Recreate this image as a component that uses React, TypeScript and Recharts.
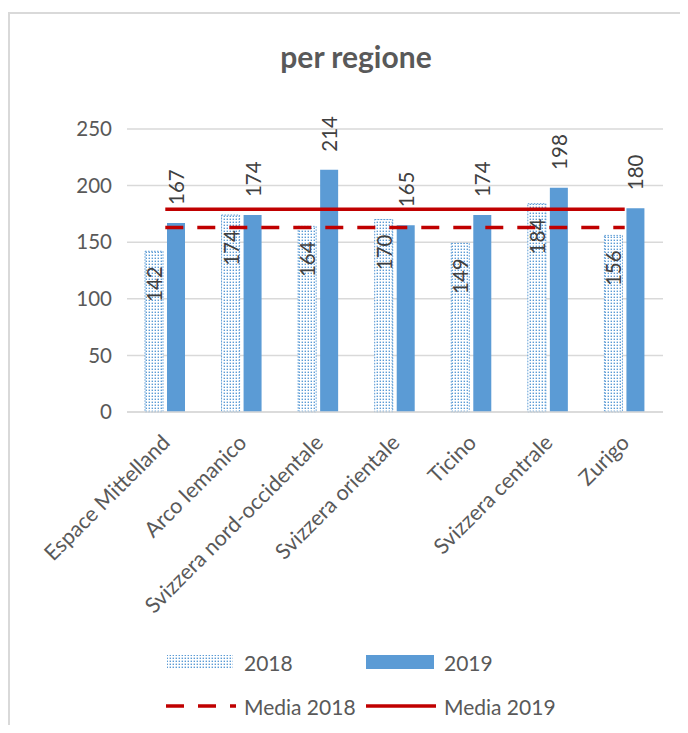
import { ComposedChart, Bar, Line, XAxis, YAxis, CartesianGrid, LabelList } from "recharts";

const REGIONS = [
  "Espace Mittelland",
  "Arco lemanico",
  "Svizzera nord-occidentale",
  "Svizzera orientale",
  "Ticino",
  "Svizzera centrale",
  "Zurigo",
];
const VALUES_2018 = [142, 174, 164, 170, 149, 184, 156];
const VALUES_2019 = [167, 174, 214, 165, 174, 198, 180];
const MEDIA_2018 = [163, 163, 163, 163, 163, 163, 163];
const MEDIA_2019 = [179, 179, 179, 179, 179, 179, 179];
const Y_TICKS = [0, 50, 100, 150, 200, 250];

const FONT = "Lato, 'Open Sans', sans-serif";
const BLUE = "#5B9BD5";
const RED = "#C00000";
const GRID = "#D9D9D9";
const TEXT = "#595959";

const data = REGIONS.map((region, i) => ({
  region,
  v2018: VALUES_2018[i],
  v2019: VALUES_2019[i],
  m2018: MEDIA_2018[i],
  m2019: MEDIA_2019[i],
}));

function DotPattern({ id }: { id: string }) {
  return (
    <pattern id={id} width={3} height={3} patternUnits="userSpaceOnUse">
      <rect width={3} height={3} fill="#fff" />
      <rect x={0.6} y={0.6} width={1.4} height={1.4} fill={BLUE} />
    </pattern>
  );
}

// label inside the top of the 2018 bars, reading upwards
function InsideLabel(props: any) {
  const { x, y, width, value } = props;
  const cx = x + width / 2;
  const ty = y + 15;
  return (
    <text
      x={cx}
      y={ty}
      transform={`rotate(-90, ${cx}, ${ty})`}
      textAnchor="end"
      dominantBaseline="central"
      fill="#404040"
      fontSize={20.5}
      fontFamily={FONT}
    >
      {value}
    </text>
  );
}

// label above the 2019 bars
function OutsideLabel(props: any) {
  const { x, y, width, value } = props;
  const cx = x + width / 2;
  const ty = y - 18;
  return (
    <text
      x={cx}
      y={ty}
      transform={`rotate(-90, ${cx}, ${ty})`}
      textAnchor="start"
      dominantBaseline="central"
      fill="#404040"
      fontSize={20.5}
      fontFamily={FONT}
    >
      {value}
    </text>
  );
}

function RegionTick({ x, y, payload }: any) {
  const tx = x + 6;
  const ty = y + 24;
  return (
    <text
      x={tx}
      y={ty}
      transform={`rotate(-45, ${tx}, ${ty})`}
      textAnchor="end"
      fill={TEXT}
      fontSize={21.5}
      fontFamily={FONT}
    >
      {payload.value}
    </text>
  );
}

const LEGEND = [
  { name: "2018", kind: "pattern", left: 156, top: 648 },
  { name: "2019", kind: "bar", left: 356, top: 648 },
  { name: "Media 2018", kind: "dash", left: 156, top: 692 },
  { name: "Media 2019", kind: "line", left: 356, top: 692 },
];

function LegendSwatch({ kind }: { kind: string }) {
  return (
    <svg width={70} height={16} style={{ display: "block" }}>
      <defs>
        <DotPattern id="legendDots" />
      </defs>
      {kind === "pattern" && <rect x={1} y={1} width={66} height={14} fill="url(#legendDots)" />}
      {kind === "bar" && <rect x={0} y={1} width={68} height={14} fill={BLUE} />}
      {kind === "dash" && (
        <line x1={0} y1={8} x2={70} y2={8} stroke={RED} strokeWidth={3.5} strokeDasharray="18 14" />
      )}
      {kind === "line" && <line x1={0} y1={8} x2={70} y2={8} stroke={RED} strokeWidth={3.5} />}
    </svg>
  );
}

export default function App() {
  return (
    <div
      style={{
        position: "relative",
        top: 4,
        width: 680,
        height: 717,
        boxSizing: "border-box",
        borderTop: `2px solid ${GRID}`,
        borderLeft: `2px solid ${GRID}`,
        overflow: "hidden",
        fontFamily: FONT,
      }}
    >
      <div
        style={{
          position: "absolute",
          left: 0,
          top: 25,
          width: 692,
          textAlign: "center",
          fontSize: 30,
          lineHeight: "34px",
          fontWeight: 700,
          color: TEXT,
        }}
      >
        per regione
      </div>

      <div style={{ position: "absolute", left: 0, top: 0 }}>
        <ComposedChart
          width={678}
          height={700}
          data={data}
          margin={{ top: 115, right: 25, bottom: 0, left: 0 }}
          barGap={4}
          barSize={18}
        >
          <defs>
            <DotPattern id="dots2018" />
          </defs>
          <CartesianGrid vertical={false} stroke={GRID} strokeWidth={1.5} />
          <XAxis
            dataKey="region"
            interval={0}
            height={302}
            axisLine={{ stroke: GRID, strokeWidth: 1.5 }}
            tickLine={false}
            tick={<RegionTick />}
          />
          <YAxis
            width={117}
            domain={[0, 250]}
            ticks={Y_TICKS}
            axisLine={false}
            tickLine={false}
            tickSize={0}
            tickMargin={15}
            tick={{ fill: TEXT, fontSize: 20.5, fontFamily: FONT }}
          />
          <Bar
            dataKey="v2018"
            name="2018"
            fill="url(#dots2018)"
            stroke={BLUE}
            strokeWidth={1}
            strokeDasharray="1.5 1.5"
            isAnimationActive={false}
          >
            <LabelList dataKey="v2018" content={<InsideLabel />} />
          </Bar>
          <Bar dataKey="v2019" name="2019" fill={BLUE} isAnimationActive={false}>
            <LabelList dataKey="v2019" content={<OutsideLabel />} />
          </Bar>
          <Line
            dataKey="m2018"
            name="Media 2018"
            stroke={RED}
            strokeWidth={3.5}
            strokeDasharray="18 14"
            dot={false}
            activeDot={false}
            isAnimationActive={false}
          />
          <Line
            dataKey="m2019"
            name="Media 2019"
            stroke={RED}
            strokeWidth={3.5}
            dot={false}
            activeDot={false}
            isAnimationActive={false}
          />
        </ComposedChart>
      </div>

      {LEGEND.map((item) => (
        <div
          key={item.name}
          style={{
            position: "absolute",
            left: item.left,
            top: item.top - 12,
            height: 24,
            display: "flex",
            alignItems: "center",
            gap: 8,
            fontSize: 21,
            color: TEXT,
          }}
        >
          <LegendSwatch kind={item.kind} />
          <span>{item.name}</span>
        </div>
      ))}
    </div>
  );
}
